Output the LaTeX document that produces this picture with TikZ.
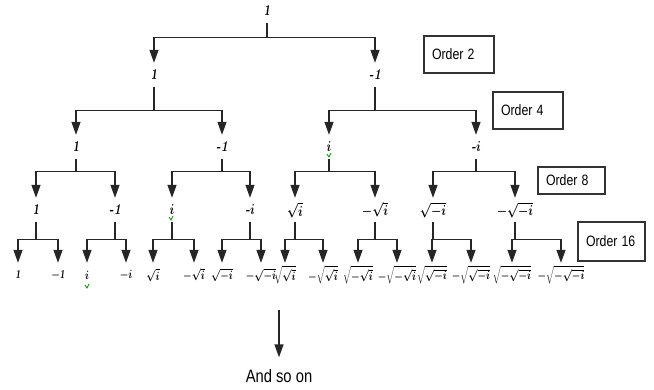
\documentclass[tikz,border=0pt]{standalone}
\usepackage{fontspec}
\usepackage{graphicx}
\usetikzlibrary{arrows.meta}
\newfontfamily\arialish{Liberation Sans}
\newcommand\lab[1]{\scalebox{0.8}[1]{$#1$}}
\newcommand\olab[1]{\scalebox{0.82}[1]{#1}}
\newcommand\branch[4]{%
  \draw[arr] (#1.south) -- ++(0,#4) -| (#2.north);
  \draw[arr] (#1.south) -- ++(0,#4) -| (#3.north);}
\begin{document}
\begin{tikzpicture}[x=1pt,y=-1pt,
  conn/.style={line width=1.3pt, draw=black!85},
  arr/.style={conn, -{Triangle[length=13pt,width=9pt]}},
  lbl/.style={inner sep=0pt, minimum height=24pt, font=\fontsize{15}{17}\selectfont\bfseries\boldmath},
  leaf/.style={lbl, font=\fontsize{12}{14}\selectfont\bfseries\boldmath},
  obox/.style={draw=black!80, line width=1.2pt, inner xsep=8pt, inner ysep=0pt,
    align=left, font=\arialish\fontsize{15}{17}\selectfont},
  squig/.style={draw=green!55!black, line width=0.8pt}]
\useasboundingbox (0,0) rectangle (654,390);
% level 0 and 1
\node[lbl] (r) at (267,11) {\lab{\mathit{1}}};
\node[lbl] (a) at (154,75) {\lab{\mathit{1}}};
\node[lbl] (b) at (375,75) {\lab{\textit{-1}}};
% level 2
\node[lbl] (aa) at (76,147) {\lab{\mathit{1}}};
\node[lbl] (ab) at (222,147) {\lab{\textit{-1}}};
\node[lbl] (ba) at (329,147) {\lab{i}};
\node[lbl] (bb) at (476,147) {\lab{\textit{-}i}};
% level 3
\node[lbl] (aaa) at (36,210) {\lab{\mathit{1}}};
\node[lbl] (aab) at (115,210) {\lab{\textit{-1}}};
\node[lbl] (aba) at (172,210) {\lab{i}};
\node[lbl] (abb) at (250,210) {\lab{\textit{-}i}};
\node[lbl] (baa) at (295,210) {\lab{\sqrt{i}}};
\node[lbl] (bab) at (375,210) {\lab{-\sqrt{i}}};
\node[lbl] (bba) at (433,210) {\lab{\sqrt{-i}}};
\node[lbl] (bbb) at (515,210) {\lab{-\sqrt{-i}}};
% level 4
\node[leaf] (aaaa) at (18,275) {\lab{\mathit{1}}};
\node[leaf] (aaab) at (58,275) {\lab{-\mathit{1}}};
\node[leaf] (aaba) at (87,275) {\lab{i}};
\node[leaf] (aabb) at (126,275) {\lab{-i}};
\node[leaf] (abaa) at (153,275) {\lab{\sqrt{i}}};
\node[leaf] (abab) at (194,275) {\lab{-\sqrt{i}}};
\node[leaf] (abba) at (222,275) {\lab{\sqrt{-i}}};
\node[leaf] (abbb) at (261,275) {\lab{-\sqrt{-i}}};
\node[leaf] (baaa) at (285,275) {\lab{\sqrt{\sqrt{i}}}};
\node[leaf] (baab) at (323,275) {\lab{-\sqrt{\sqrt{i}}}};
\node[leaf] (baba) at (358,275) {\lab{\sqrt{-\sqrt{i}}}};
\node[leaf] (babb) at (397,275) {\lab{-\sqrt{-\sqrt{i}}}};
\node[leaf] (bbaa) at (432,275) {\lab{\sqrt{\sqrt{-i}}}};
\node[leaf] (bbab) at (471,275) {\lab{-\sqrt{\sqrt{-i}}}};
\node[leaf] (bbba) at (512,275) {\lab{\sqrt{-\sqrt{-i}}}};
\node[leaf] (bbbb) at (561,275) {\lab{-\sqrt{-\sqrt{-i}}}};
% connectors
\branch{r}{a}{b}{14}
\branch{a}{aa}{ab}{23}
\branch{b}{ba}{bb}{23}
\branch{aa}{aaa}{aab}{12}
\branch{ab}{aba}{abb}{12}
\branch{ba}{baa}{bab}{12}
\branch{bb}{bba}{bbb}{12}
\branch{aaa}{aaaa}{aaab}{17}
\branch{aab}{aaba}{aabb}{17}
\branch{aba}{abaa}{abab}{17}
\branch{abb}{abba}{abbb}{17}
\branch{baa}{baaa}{baab}{17}
\branch{bab}{baba}{babb}{17}
\branch{bba}{bbaa}{bbab}{17}
\branch{bbb}{bbba}{bbbb}{17}
% order boxes
\node[obox, text width=54pt, minimum height=37pt] (o2) at (459,54.5) {\olab{Order 2}};
\node[obox, text width=54pt, minimum height=37pt] (o4) at (528,110.5) {\olab{Order 4}};
\node[obox, text width=51pt, minimum height=27pt] (o8) at (571.5,180.5) {\olab{Order 8}};
\node[obox, text width=51pt, minimum height=39pt] (o16) at (611.5,241.5) {\olab{Order 16}};
% and so on
\coordinate (more0) at (279,310);
\node[inner sep=0pt, outer ysep=12pt, font=\arialish\fontsize{18}{20}\selectfont] (more) at (279,376) {\olab{And so on}};
\draw[arr] (more0) -- (more.north);
% green squiggles
\draw[squig] (ba.center) ++(-2,7) -- ++(2,3) -- ++(2,-4);
\draw[squig] (aba.center) ++(-3,7) -- ++(2,3) -- ++(2,-4);
\draw[squig] (aaba.center) ++(-2,10) -- ++(2,3) -- ++(2,-4);
\end{tikzpicture}
\end{document}
